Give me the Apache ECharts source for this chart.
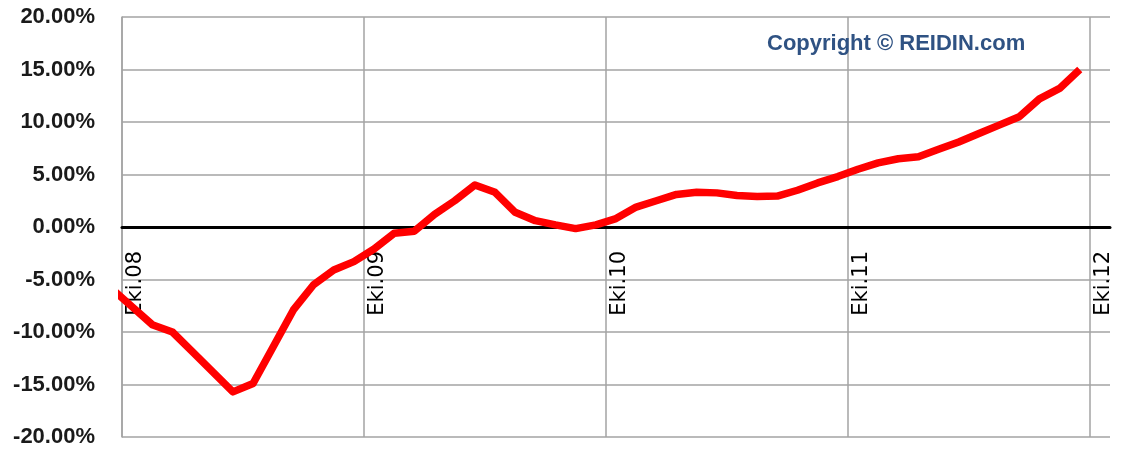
<!DOCTYPE html>
<html>
<head>
<meta charset="utf-8">
<script src="https://cdn.jsdelivr.net/npm/echarts@6/dist/echarts.min.js"></script>
<style>
  html, body { margin: 0; padding: 0; background: #ffffff; }
  #chart { width: 1124px; height: 451px; }
</style>
</head>
<body>
<div id="chart"></div>
<script>
// Year markers on the time axis (every October)
const yearTicks = ['Eki.08', 'Eki.09', 'Eki.10', 'Eki.11', 'Eki.12'];

// Y-axis range and step, in percent
const yTicks = [-20, -15, -10, -5, 0, 5, 10, 15, 20];

// Annual change (%), one reading per month, Eylül 2008 .. Eylül 2012
const growth = [
  -5.9, -7.6, -9.3, -10.0, -11.9, -13.8, -15.7, -14.9, -11.4, -7.9,
  -5.5, -4.1, -3.3, -2.1, -0.6, -0.4, 1.2, 2.5, 4.0, 3.3,
  1.4, 0.6, 0.2, -0.15, 0.2, 0.8, 1.9, 2.5, 3.1, 3.3,
  3.25, 3.0, 2.9, 2.95, 3.5, 4.2, 4.8, 5.5, 6.1, 6.5,
  6.7, 7.4, 8.1, 8.9, 9.7, 10.5, 12.2, 13.2, 15.0
];

// The first reading is the month before Eki.08; readings sit mid-month.
const firstMonth = -1;
const monthsShown = 49; // Eki.08 .. Kas.12 on the axis

const points = growth.map((v, i) => [firstMonth + i + 0.5, v]);

const gridGray = '#a3a3a3';
const plotTop = 17, plotBottom = 14, chartHeight = 451;
const plotHeight = chartHeight - plotTop - plotBottom;
// Lift the time axis from the bottom edge up to the 0 % line.
const zeroLift = -plotHeight * (0 - yTicks[0]) / (yTicks[yTicks.length - 1] - yTicks[0]);

const chart = echarts.init(document.getElementById('chart'), null, { renderer: 'canvas' });

chart.setOption({
  animation: false,
  backgroundColor: '#ffffff',
  title: {
    text: 'Copyright © REIDIN.com',
    left: 762,
    top: 28,
    textStyle: {
      fontFamily: 'Liberation Sans',
      fontWeight: 'bold',
      fontSize: 22,
      color: '#2f5283'
    }
  },
  grid: {
    left: 122, right: 14, top: plotTop, bottom: plotBottom,
    containLabel: false,
    outerBoundsMode: 'none'
  },
  xAxis: {
    type: 'value',
    position: 'bottom',
    offset: zeroLift,
    min: 0,
    max: monthsShown,
    interval: 12,
    axisLine: { onZero: false, lineStyle: { color: '#000000', width: 3 } },
    axisTick: { show: false },
    axisLabel: {
      rotate: 90,
      margin: 24,
      verticalAlign: 'top',
      lineHeight: 27,
      fontFamily: 'DejaVu Sans',
      fontSize: 21,
      color: '#000000',
      formatter: v => (v % 12 === 0 && yearTicks[v / 12]) || ''
    },
    splitLine: {
      show: true,
      showMaxLine: false,
      lineStyle: { color: gridGray, width: 1.5 }
    }
  },
  yAxis: {
    type: 'value',
    min: yTicks[0],
    max: yTicks[yTicks.length - 1],
    interval: yTicks[1] - yTicks[0],
    axisLine: { show: true, onZero: false, lineStyle: { color: gridGray, width: 1.5 } },
    axisTick: { show: false },
    axisLabel: {
      margin: 27,
      fontFamily: 'Liberation Sans',
      fontWeight: 'bold',
      fontSize: 22,
      color: '#1a1a1a',
      formatter: v => v.toFixed(2) + '%'
    },
    splitLine: { show: true, lineStyle: { color: gridGray, width: 1.5 } }
  },
  series: [{
    type: 'line',
    data: points,
    showSymbol: false,
    clip: true,
    lineStyle: { color: '#ff0000', width: 7.5, join: 'round', cap: 'butt' }
  }]
});
</script>
</body>
</html>
